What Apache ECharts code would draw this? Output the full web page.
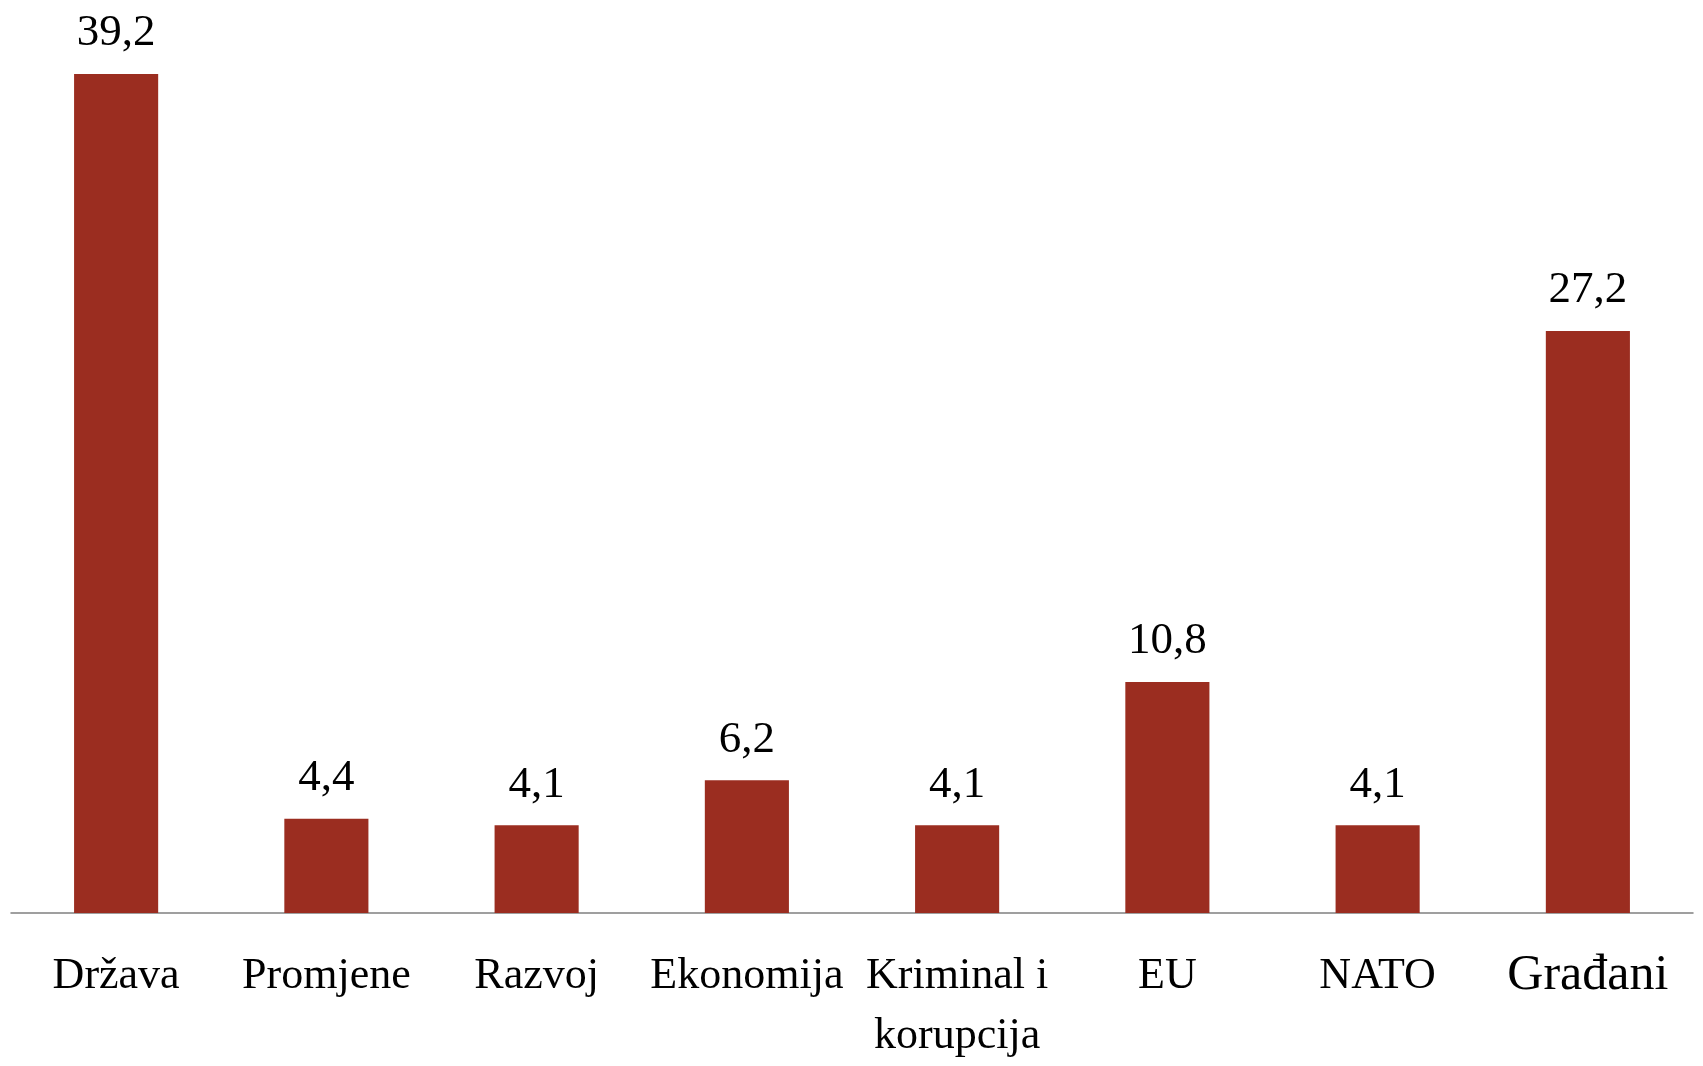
<!DOCTYPE html>
<html>
<head>
<meta charset="utf-8">
<script src="https://cdn.jsdelivr.net/npm/echarts@6/dist/echarts.min.js"></script>
<style>
  html, body { margin: 0; padding: 0; background: #fff; }
  #bar-chart { width: 1703px; height: 1066px; }
</style>
</head>
<body>
<div id="bar-chart"></div>
<script>
// podaci
var categories = ['Država', 'Promjene', 'Razvoj', 'Ekonomija', 'Kriminal i\nkorupcija', 'EU', 'NATO', 'Građani']
var values = [39.2, 4.4, 4.1, 6.2, 4.1, 10.8, 4.1, 27.2]

var myChart = echarts.init(document.getElementById('bar-chart'))
var serif = '"Liberation Serif", "DejaVu Serif", serif'

var option = {
  animation: false,
  grid: {
    left: 11,
    right: 10,
    top: 57,
    bottom: 151.5
  },
  xAxis: {
    type: 'category',
    data: categories,
    axisLine: { lineStyle: { color: '#808080', width: 1.5 } },
    axisTick: { show: false },
    axisLabel: {
      interval: 0,
      margin: 33,
      color: '#000',
      fontFamily: serif,
      fontSize: 44,
      lineHeight: 60,
      // Građani je u originalu veći, drugi font
      formatter: function (val) {
        return val === 'Građani' ? '{big|' + val + '}' : val
      },
      rich: {
        big: { fontSize: 50, fontFamily: '"Liberation Serif", serif', color: '#000', lineHeight: 60 }
      }
    }
  },
  yAxis: {
    type: 'value',
    min: 0,
    max: 40,
    show: false,
    splitLine: { show: false }
  },
  series: [
    {
      type: 'bar',
      data: values,
      barWidth: '40%',
      itemStyle: { color: '#9B2D20' },
      label: {
        show: true,
        position: 'top',
        distance: 18,
        color: '#000',
        fontFamily: serif,
        fontSize: 45,
        formatter: function (p) {
          return p.value.toFixed(1).replace('.', ',')
        }
      }
    }
  ]
}
myChart.setOption(option)
</script>
</body>
</html>
